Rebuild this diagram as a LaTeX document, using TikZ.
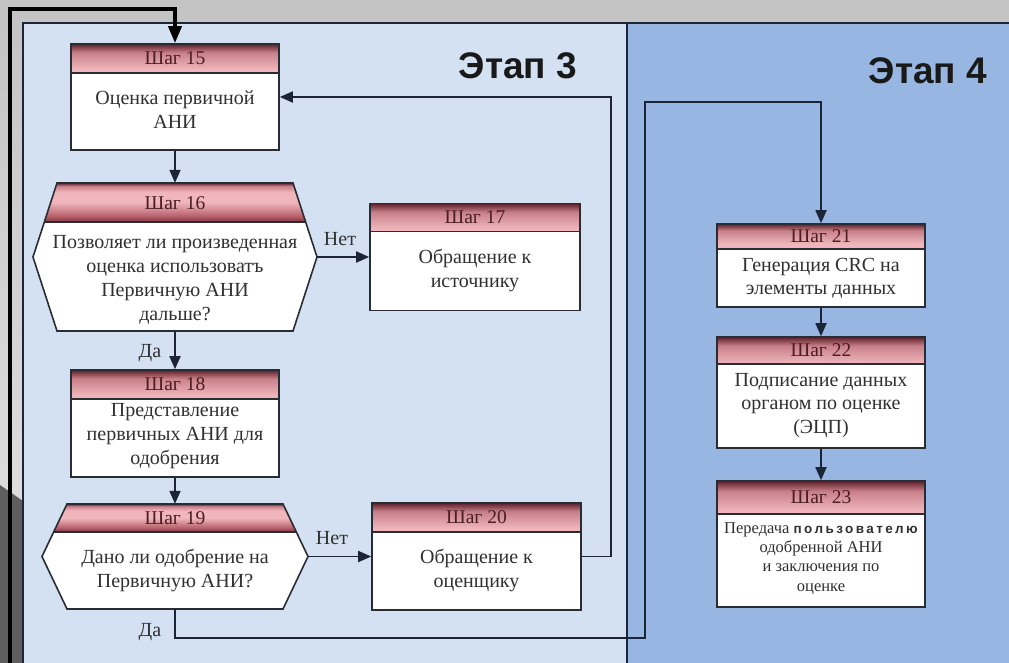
\documentclass[tikz,border=0pt]{standalone}
\usepackage{fontspec}
\setmainfont{Liberation Serif}
\newfontfamily\stagefont{Liberation Sans}
\newfontfamily\oddfont[LetterSpace=18]{Liberation Sans}
\usetikzlibrary{arrows.meta,calc}

\definecolor{bggray}{HTML}{C4C4C4}
\definecolor{strip}{HTML}{DCDCDC}
\definecolor{darkgray}{HTML}{5E5E5E}
\definecolor{panelA}{HTML}{D4E1F2}
\definecolor{panelB}{HTML}{97B7E2}
\definecolor{panelline}{HTML}{1E2536}
\definecolor{boxline}{HTML}{2A2C34}
\definecolor{lncol}{HTML}{1C2438}
\definecolor{hdrTop}{HTML}{5E1F2A}
\definecolor{hdrTopB}{HTML}{C8808A}
\definecolor{hdrMid}{HTML}{F0B6BC}
\definecolor{hdrLow}{HTML}{B8636E}
\definecolor{hdrBot}{HTML}{86343F}
\definecolor{txt}{HTML}{303030}
\definecolor{ttl}{HTML}{4A1E22}

\pgfdeclareverticalshading{hdrshade}{100bp}{color(0bp)=(hdrBot); color(25bp)=(hdrBot); color(33bp)=(hdrLow); color(50bp)=(hdrMid); color(63bp)=(hdrMid); color(71bp)=(hdrTopB); color(75bp)=(hdrTop); color(100bp)=(hdrTop)}

\begin{document}
\begin{tikzpicture}[x=1pt,y=-1pt,
  stepbox/.style={draw=boxline, line width=1.6pt, fill=white, inner sep=0pt,
    path picture={
      \shade[shading=hdrshade]
        (path picture bounding box.north west) rectangle ([yshift=-#1]path picture bounding box.north east);
      \draw[boxline, line width=1.4pt]
        ([yshift=-#1]path picture bounding box.north west) -- ([yshift=-#1]path picture bounding box.north east);
    }},
  hexanchor/.style={rectangle, inner sep=0pt, draw=none},
  hexline/.style={draw=boxline, line width=1.6pt, line join=miter},
  steptext/.style={align=center, inner sep=0pt, text=txt, font=\fontsize{20}{24}\selectfont},
  midtext/.style={align=center, inner sep=0pt, text=txt, font=\fontsize{20}{23.5}\selectfont},
  smalltext/.style={align=center, inner sep=0pt, text=txt, font=\fontsize{16.5}{19.3}\selectfont},
  steptitle/.style={inner sep=0pt, text=ttl, font=\fontsize{19.5}{19.5}\selectfont},
  lbl/.style={inner sep=0pt, text=txt, font=\fontsize{20}{20}\selectfont},
  stagelabel/.style={inner sep=0pt, font=\stagefont\bfseries\fontsize{37}{37}\selectfont, text=black!90},
  conn/.style={draw=lncol, line width=1.8pt, -{Triangle[length=13pt,width=11pt]}},
  thickconn/.style={draw=black, line width=3.6pt, -{Triangle[length=17pt,width=13pt]}}
]
\useasboundingbox (0,0) rectangle (1009,663);

% ---------- background ----------
\fill[bggray] (0,0) rectangle (1009,663);
\shade[top color=bggray, bottom color=strip] (0,23) rectangle (23,487);
\fill[strip] (0,487) rectangle (23,503);
\fill[darkgray] (0,485) -- (23,501) -- (23,663) -- (0,663) -- cycle;

% ---------- panels ----------
\fill[panelA] (23,23) rectangle (627,663);
\fill[panelB] (627,23) rectangle (1009,663);
\draw[panelline, line width=2pt] (23,663) -- (23,23) -- (1009,23);
\draw[panelline, line width=2.6pt] (627,23) -- (627,663);

\node[stagelabel] (st3) at (518,66) {Этап 3};
\node[stagelabel] (st4) at (928,71) {Этап 4};

% ---------- hexagon 16 ----------
\begin{scope}
  \clip (33,257) -- (57,183) -- (293,183) -- (317,257) -- (293,331) -- (57,331) -- cycle;
  \fill[white] (30,183) rectangle (320,331);
  \shade[shading=hdrshade] (30,183) rectangle (320,222);
  \draw[boxline, line width=1.4pt] (30,222) -- (320,222);
\end{scope}
\draw[hexline] (33,257) -- (57,183) -- (293,183) -- (317,257) -- (293,331) -- (57,331) -- cycle;
\node[hexanchor, minimum width=284pt, minimum height=148pt] (s16) at (175,257) {};
\node[steptitle] (s16h) at (175,203) {Шаг 16};
\node[steptext] (s16t) at (175,280) {Позволяет ли произведенная\\оценка использоватъ\\Первичную АНИ\\дальше?};

% ---------- hexagon 19 ----------
\begin{scope}
  \clip (42,556.5) -- (67,504) -- (283,504) -- (308,556.5) -- (283,609) -- (67,609) -- cycle;
  \fill[white] (40,504) rectangle (310,609);
  \shade[shading=hdrshade] (40,504) rectangle (310,532);
  \draw[boxline, line width=1.4pt] (40,532) -- (310,532);
\end{scope}
\draw[hexline] (42,556.5) -- (67,504) -- (283,504) -- (308,556.5) -- (283,609) -- (67,609) -- cycle;
\node[hexanchor, minimum width=266pt, minimum height=105pt] (s19) at (175,556.5) {};
\node[steptitle] (s19h) at (175,518) {Шаг 19};
\node[steptext] (s19t) at (175,570) {Дано ли одобрение на\\Первичную АНИ?};

% ---------- rectangular steps ----------
\node[stepbox=29pt, minimum width=208pt, minimum height=106pt] (s15) at (175,97) {};
\node[steptitle] (s15h) at (175,58.5) {Шаг 15};
\node[steptext] (s15t) at (175,110) {Оценка первичной\\АНИ};

\node[stepbox=28pt, minimum width=210pt, minimum height=107pt] (s17) at (475,257) {};
\node[steptitle] (s17h) at (475,217.5) {Шаг 17};
\node[steptext] (s17t) at (475,270) {Обращение к\\источнику};

\node[stepbox=29pt, minimum width=208pt, minimum height=107pt] (s18) at (175,423.5) {};
\node[steptitle] (s18h) at (175,384.5) {Шаг 18};
\node[steptext] (s18t) at (175,436) {Представление\\первичных АНИ для\\одобрения};

\node[stepbox=29pt, minimum width=209pt, minimum height=107pt] (s20) at (476.5,556.5) {};
\node[steptitle] (s20h) at (476.5,517.5) {Шаг 20};
\node[steptext] (s20t) at (476.5,570) {Обращение к\\оценщику};

\node[stepbox=25pt, minimum width=208pt, minimum height=83pt] (s21) at (821,265.5) {};
\node[steptitle] (s21h) at (821,236.5) {Шаг 21};
\node[midtext] (s21t) at (821,278.5) {Генерация CRC на\\элементы данных};

\node[stepbox=27pt, minimum width=208pt, minimum height=111pt] (s22) at (821,392.5) {};
\node[steptitle] (s22h) at (821,350.5) {Шаг 22};
\node[midtext] (s22t) at (821,405.5) {Подписание данных\\органом по оценке\\(ЭЦП)};

\node[stepbox=33pt, minimum width=208pt, minimum height=126pt] (s23) at (821,544) {};
\node[steptitle] (s23h) at (821,497.5) {Шаг 23};
\node[smalltext] (s23t) at (821,558.5) {Передача {\oddfont\bfseries\fontsize{13.5}{19.3}\selectfont пользователю}\\одобренной АНИ\\и заключения по\\оценке};

% ---------- connectors ----------
\coordinate (cin) at (10,663);
\draw[thickconn] (cin) |- ($(s15.north)+(0,-34)$) -- (s15.north);

\draw[conn] (s15.south) -- (s16.north);
\draw[conn] (s16.east) -- (s17.west);
\draw[conn] (s16.south) -- (s18.north);
\draw[conn] (s18.south) -- (s19.north);
\draw[conn] (s19.east) -- (s20.west);
\draw[conn] (s20.east) -- ++(29,0) |- (s15.east);

\coordinate (j1) at (645,638);
\coordinate (j2) at (645,102);
\draw[conn] (s19.south) |- (j1) -- (j2) -| (s21.north);

\draw[conn] (s21.south) -- (s22.north);
\draw[conn] (s22.south) -- (s23.north);

\node[lbl] (no1) at (340,239) {Нет};
\node[lbl] (yes1) at (150,353) {Да};
\node[lbl] (no2) at (332,538) {Нет};
\node[lbl] (yes2) at (150,632) {Да};
\end{tikzpicture}
\end{document}
